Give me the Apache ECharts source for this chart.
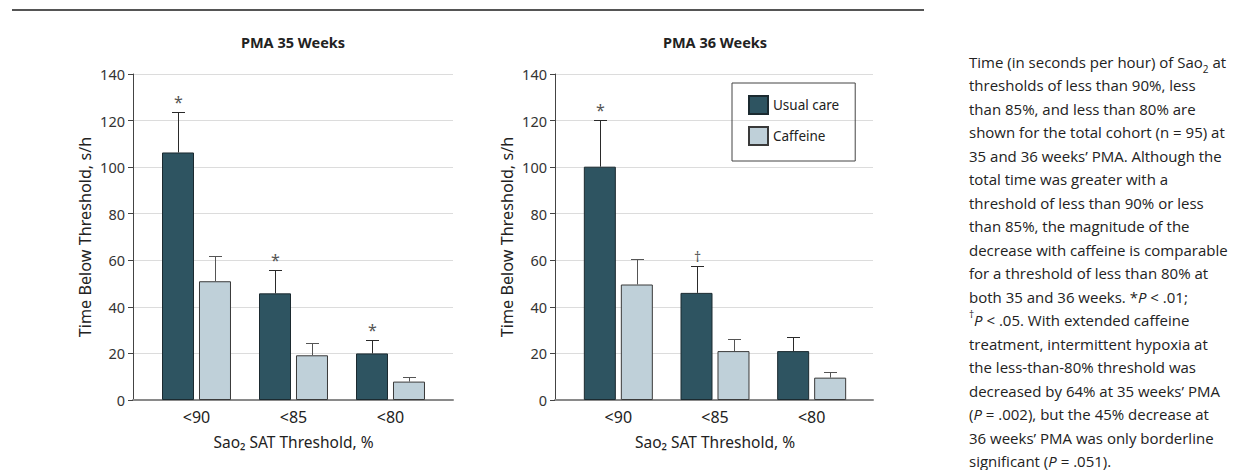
<!DOCTYPE html>
<html>
<head>
<meta charset="utf-8">
<script src="https://cdn.jsdelivr.net/npm/echarts@6/dist/echarts.min.js"></script>
<style>
html,body{margin:0;padding:0;background:#fff;}
#chart{width:1254px;height:470px;}
</style>
</head>
<body>
<div id="chart"></div>
<script>
// ---- data ----
const categories = ['<90', '<85', '<80'];
const seriesNames = ['Usual care', 'Caffeine'];
const panelTitles = ['PMA 35 Weeks', 'PMA 36 Weeks'];
const usual35 = [106.3, 45.8, 20.0];
const usual35Upper = [123.7, 56.0, 25.7];
const caff35 = [51.0, 19.2, 7.9];
const caff35Upper = [62.0, 24.3, 10.0];
const usual36 = [100.2, 46.0, 21.0];
const usual36Upper = [120.1, 57.5, 27.2];
const caff36 = [49.6, 21.0, 9.6];
const caff36Upper = [60.7, 26.3, 12.0];
const marks35 = ['*', '*', '*'];
const marks36 = ['*', '\u2020', ''];
const yMin = 0, yMax = 140, yStep = 20;
const xAxisName = 'Sao\u2082 SAT Threshold, %';
const yAxisName = 'Time Below Threshold, s/h';

const captionLines = [
  'Time (in seconds per hour) of Sao{sub|2} at',
  'thresholds of less than 90%, less',
  'than 85%, and less than 80% are',
  'shown for the total cohort (n = 95) at',
  '35 and 36 weeks\u2019 PMA. Although the',
  'total time was greater with a',
  'threshold of less than 90% or less',
  'than 85%, the magnitude of the',
  'decrease with caffeine is comparable',
  'for a threshold of less than 80% at',
  'both 35 and 36 weeks. *{i|P} < .01;',
  '{sup|\u2020}{i|P} < .05. With extended caffeine',
  'treatment, intermittent hypoxia at',
  'the less-than-80% threshold was',
  'decreased by 64% at 35 weeks\u2019 PMA',
  '({i|P} = .002), but the 45% decrease at',
  '36 weeks\u2019 PMA was only borderline',
  'significant ({i|P} = .051).'
];

// ---- styles ----
const FONT = 'Noto Sans';
const USUAL = '#2e5461';
const USUAL_B = '#1b2a30';
const CAFF = '#bfd0d9';
const CAFF_B = '#3a3a3a';

const chart = echarts.init(document.getElementById('chart'), null, {renderer: 'svg'});

function errRender(means, uppers, marks, offset, color) {
  return function (params, api) {
    const i = api.value(0);
    const base = api.coord([i, api.value(1)]);
    const top = api.coord([i, api.value(2)]);
    const x = Math.round(base[0] + offset) + 0.5;
    const yb = base[1];
    const yt = Math.round(top[1]) + 0.5;
    const children = [
      {type: 'line', shape: {x1: x, y1: yb, x2: x, y2: yt}, style: {stroke: color, lineWidth: 1}},
      {type: 'line', shape: {x1: x - 6.5, y1: yt, x2: x + 6.5, y2: yt}, style: {stroke: color, lineWidth: 1}}
    ];
    const m = marks ? marks[params.dataIndex] : '';
    if (m) {
      children.push({type: 'text', style: {x: x, y: yt - 3, text: m, align: 'center', verticalAlign: 'bottom',
        fontFamily: FONT, fontSize: m === '*' ? 16 : 14, fill: '#555'}});
    }
    return {type: 'group', children: children};
  };
}

function errSeries(xi, means, uppers, marks, offset, color) {
  return {
    type: 'custom', name: 'err', xAxisIndex: xi, yAxisIndex: xi, z: 5, silent: true,
    renderItem: errRender(means, uppers, marks, offset, color),
    data: categories.map((c, i) => [i, means[i], uppers[i]])
  };
}

function frameX(gi) {
  return {gridIndex: gi, type: 'value', min: 0, max: 1, axisLabel: {show: false}, axisTick: {show: false},
    splitLine: {show: false}, axisLine: {show: true, onZero: false, lineStyle: {color: '#8a8a8a', width: 2}}};
}
function catX(gi) {
  return {gridIndex: gi, type: 'category', data: categories, axisLine: {show: false}, axisTick: {show: false},
    axisLabel: {fontFamily: FONT, fontSize: 16, color: '#222', margin: 9},
    name: xAxisName, nameLocation: 'middle', nameGap: 34,
    nameTextStyle: {fontFamily: FONT, fontSize: 15.5, color: '#222'}};
}
function frameY(gi) {
  return {gridIndex: gi, type: 'value', min: yMin, max: yMax, interval: yStep,
    axisLine: {show: true, lineStyle: {color: '#444', width: 1}},
    axisTick: {show: true, length: 5, lineStyle: {color: '#444'}},
    axisLabel: {fontFamily: FONT, fontSize: 14.5, color: '#333', margin: 8},
    splitLine: {show: true, lineStyle: {color: '#dcdcdc', width: 1}},
    name: yAxisName, nameLocation: 'middle', nameGap: 40,
    nameTextStyle: {fontFamily: FONT, fontSize: 16.2, color: '#222'}};
}
function hiddenY(gi) {
  return {gridIndex: gi, type: 'value', min: yMin, max: yMax, interval: yStep, show: false};
}
function bar(xi, name, data, color, border) {
  return {type: 'bar', name: name, xAxisIndex: xi, yAxisIndex: xi, data: data, barWidth: 32, barGap: '15.6%',
    itemStyle: {color: color, borderColor: border, borderWidth: 1}, emphasis: {disabled: true}};
}

const option = {
  animation: false,
  textStyle: {fontFamily: FONT},
  grid: [
    {left: 133, top: 74, width: 320, height: 326},
    {left: 148, top: 74, width: 291, height: 326},
    {left: 555, top: 74, width: 318, height: 326},
    {left: 570, top: 74, width: 290, height: 326}
  ],
  xAxis: [frameX(0), catX(1), frameX(2), catX(3)],
  yAxis: [frameY(0), hiddenY(1), frameY(2), hiddenY(3)],
  legend: {
    data: seriesNames, orient: 'vertical', left: 732, top: 83, icon: 'rect',
    itemWidth: 19, itemHeight: 18, itemGap: 11, padding: [12, 16, 15, 16],
    borderColor: '#444', borderWidth: 1, selectedMode: false,
    textStyle: {fontFamily: FONT, fontSize: 13.5, color: '#222'}
  },
  graphic: [
    {type: 'line', shape: {x1: 12, y1: 10, x2: 924, y2: 10}, style: {stroke: '#555', lineWidth: 2}},
    {type: 'text', style: {x: 293, y: 42, text: panelTitles[0], align: 'center', verticalAlign: 'middle',
      fontFamily: FONT, fontWeight: 'bold', fontSize: 14.5, fill: '#222'}},
    {type: 'text', style: {x: 715, y: 42, text: panelTitles[1], align: 'center', verticalAlign: 'middle',
      fontFamily: FONT, fontWeight: 'bold', fontSize: 14.5, fill: '#222'}},
    {type: 'text', style: {x: 969, y: 50, text: captionLines.join('\n'), lineHeight: 23.5,
      fontFamily: 'Open Sans', fontSize: 15, fill: '#222',
      rich: {
        i: {fontStyle: 'italic', fontFamily: 'Open Sans', fontSize: 15, lineHeight: 23.5},
        sub: {fontFamily: 'Open Sans', fontSize: 10, verticalAlign: 'bottom', lineHeight: 23.5},
        sup: {fontFamily: 'Open Sans', fontSize: 10, verticalAlign: 'top', lineHeight: 23.5}
      }}}
  ],
  series: [
    bar(1, seriesNames[0], usual35, USUAL, USUAL_B),
    bar(1, seriesNames[1], caff35, CAFF, CAFF_B),
    bar(3, seriesNames[0], usual36, USUAL, USUAL_B),
    bar(3, seriesNames[1], caff36, CAFF, CAFF_B),
    errSeries(1, usual35, usual35Upper, marks35, -18.5, '#2a2a2a'),
    errSeries(1, caff35, caff35Upper, null, 18.5, '#555'),
    errSeries(3, usual36, usual36Upper, marks36, -18.5, '#2a2a2a'),
    errSeries(3, caff36, caff36Upper, null, 18.5, '#555')
  ]
};
chart.setOption(option);
</script>
</body>
</html>
